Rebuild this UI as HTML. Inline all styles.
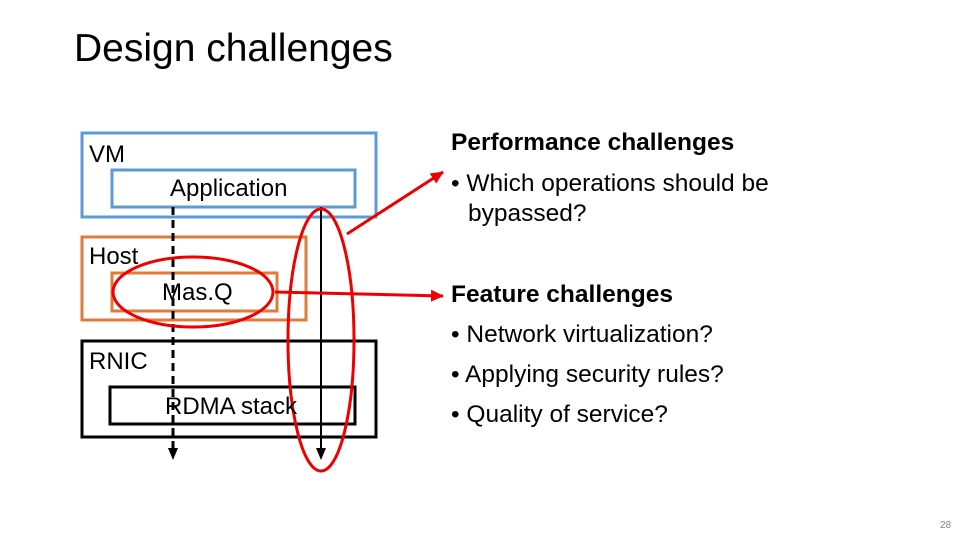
<!DOCTYPE html>
<html><head><style>
body{margin:0;width:960px;height:540px;background:#fff;position:relative;overflow:hidden;font-family:"Liberation Sans",Calibri,sans-serif;}
.t{position:absolute;white-space:nowrap;color:#000;}
.r{font-size:24.5px;}
.l{font-size:24px;}
</style></head><body>
<div class="t" style="left:74px;top:27px;font-size:39px;">Design challenges</div>
<svg width="960" height="540" style="position:absolute;left:0;top:0">
<defs><marker id="a" markerUnits="userSpaceOnUse" markerWidth="14" markerHeight="14" refX="12" refY="7" orient="auto"><path d="M0,1L13,7L0,13z" fill="#e00"/></marker>
<marker id="b" markerUnits="userSpaceOnUse" markerWidth="10" markerHeight="12" refX="5" refY="10" orient="0"><path d="M1,0L9,0L5,11z" fill="#000"/></marker></defs>
<rect x="82" y="133" width="294" height="84" fill="none" stroke="#5b9bd5" stroke-width="3"/>
<rect x="112" y="170" width="243" height="37" fill="none" stroke="#5b9bd5" stroke-width="3"/>
<rect x="82" y="237" width="224" height="83" fill="none" stroke="#e07b39" stroke-width="3"/>
<rect x="112" y="273" width="165" height="38" fill="none" stroke="#e07b39" stroke-width="3"/>
<rect x="82" y="341" width="294" height="96" fill="none" stroke="#000" stroke-width="3"/>
<rect x="110" y="387" width="245" height="37" fill="none" stroke="#000" stroke-width="3"/>
<line x1="173" y1="207" x2="173" y2="450" stroke="#000" stroke-width="3" stroke-dasharray="8,5"/>
<path d="M168,448L178,448L173,460z" fill="#000"/>
<line x1="321" y1="207" x2="321" y2="450" stroke="#000" stroke-width="2"/>
<path d="M316,448L326,448L321,460z" fill="#000"/>
<ellipse cx="321" cy="340" rx="33" ry="131" fill="none" stroke="#e00" stroke-width="3"/>
<ellipse cx="193" cy="292" rx="80" ry="35" fill="none" stroke="#e00" stroke-width="3"/>
<line x1="347" y1="234" x2="443" y2="172" stroke="#e00" stroke-width="3" marker-end="url(#a)"/>
<line x1="275" y1="292" x2="443" y2="296" stroke="#e00" stroke-width="3" marker-end="url(#a)"/>
</svg>
<div class="t l" style="left:89px;top:141px;">VM</div>
<div class="t l" style="left:170px;top:175px;">Application</div>
<div class="t l" style="left:89px;top:243px;">Host</div>
<div class="t l" style="left:162px;top:279px;">Mas.Q</div>
<div class="t l" style="left:89px;top:348px;">RNIC</div>
<div class="t l" style="left:165px;top:393px;">RDMA stack</div>
<div class="t r" style="left:451px;top:129px;font-weight:bold;">Performance challenges</div>
<div class="t r" style="left:451px;top:170px;">• Which operations should be</div>
<div class="t r" style="left:468px;top:200px;">bypassed?</div>
<div class="t r" style="left:451px;top:281px;font-weight:bold;">Feature challenges</div>
<div class="t r" style="left:451px;top:321px;">• Network virtualization?</div>
<div class="t r" style="left:451px;top:361px;">• Applying security rules?</div>
<div class="t r" style="left:451px;top:401px;">• Quality of service?</div>
<div class="t" style="left:940px;top:520px;font-size:10px;color:#888;">28</div>
</body></html>
